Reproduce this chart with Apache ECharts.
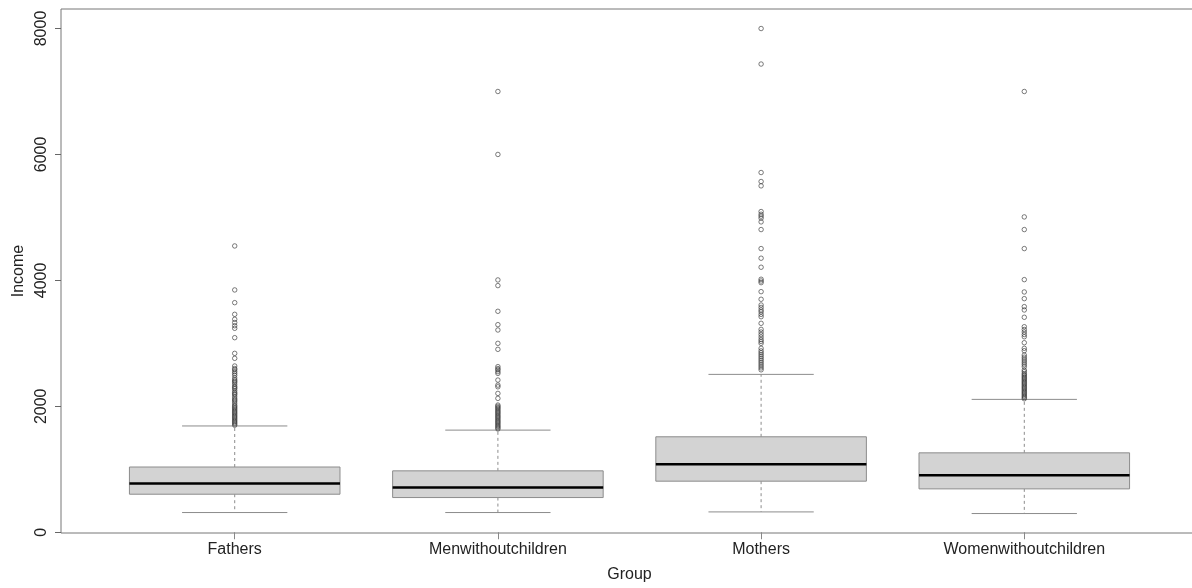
<!DOCTYPE html>
<html>
<head>
<meta charset="utf-8">
<script src="https://cdn.jsdelivr.net/npm/echarts@6/dist/echarts.min.js"></script>
<style>
  html, body { margin: 0; padding: 0; background: #fff; }
  #chart { width: 1192px; height: 588px; }
</style>
</head>
<body>
<div id="chart"></div>
<script>
// groups along the x axis
const groups = ['Fathers', 'Menwithoutchildren', 'Mothers', 'Womenwithoutchildren']
// box stats: [lower whisker, Q1, median, Q3, upper whisker]
const boxStats = [
  [313, 604, 776, 1036, 1688],
  [313, 551, 710, 975, 1622],
  [323, 811, 1081, 1516, 2507],
  [297, 689, 906, 1261, 2110]
]
// outliers per group
const outFathers = [4547, 3848, 3646, 3461, 3382, 3330, 3280, 3239, 3090, 2841, 2762,
  2640, 2600, 2580, 2550, 2520, 2490, 2450, 2420, 2400, 2380, 2350, 2320, 2300, 2280,
  2250, 2220, 2200, 2180, 2150, 2120, 2100, 2080, 2050, 2020, 2000, 1980, 1960, 1940,
  1920, 1900, 1880, 1860, 1840, 1820, 1800, 1780, 1760, 1740, 1720, 1700]
const outMen = [7000, 6000, 4007, 3917, 3509, 3297, 3212, 3000, 2905, 2630, 2600, 2580,
  2550, 2523, 2417, 2337, 2310, 2205, 2126, 2020, 2000, 1980, 1960, 1940, 1920, 1900,
  1880, 1860, 1840, 1820, 1800, 1780, 1760, 1740, 1720, 1700, 1680, 1660, 1640]
const outMothers = [8000, 7436, 5713, 5570, 5501, 5093, 5050, 5020, 4988, 4929, 4807,
  4505, 4352, 4209, 4018, 3990, 3964, 3821, 3700, 3609, 3570, 3530, 3500, 3460, 3423,
  3318, 3222, 3180, 3140, 3100, 3060, 3030, 3000, 2921, 2880, 2850, 2820, 2790, 2760,
  2730, 2700, 2670, 2640, 2610, 2580]
const outWomen = [7000, 5008, 4807, 4505, 4012, 3816, 3710, 3583, 3530, 3414, 3264, 3220,
  3180, 3140, 3105, 3010, 2921, 2883, 2814, 2780, 2750, 2720, 2690, 2660, 2628, 2576,
  2550, 2520, 2500, 2480, 2460, 2440, 2420, 2400, 2380, 2360, 2340, 2320, 2300, 2280,
  2260, 2240, 2220, 2200, 2180, 2160, 2140, 2120]
const yTicks = [0, 2000, 4000, 6000, 8000]

const outliers = [outFathers, outMen, outMothers, outWomen]
const font = 'Liberation Sans, Arial, sans-serif'

let myChart = echarts.init(document.getElementById('chart'))

let boxData = boxStats.map((s, i) => [i + 1].concat(s))
let outData = []
outliers.forEach((arr, i) => {
  arr.forEach(v => outData.push([i + 1, v]))
})

// draw one R-style box
function renderBox(params, api) {
  let x = api.value(0)
  let half = api.size([0.4, 0])[0]
  let capHalf = half / 2
  let pMin = api.coord([x, api.value(1)])
  let pQ1 = api.coord([x, api.value(2)])
  let pMed = api.coord([x, api.value(3)])
  let pQ3 = api.coord([x, api.value(4)])
  let pMax = api.coord([x, api.value(5)])
  let cx = pMed[0]
  let dashed = { stroke: '#8c8c8c', lineWidth: 1, lineDash: [3, 3] }
  let solid = { stroke: '#8c8c8c', lineWidth: 1 }
  return {
    type: 'group',
    children: [
      { type: 'line', shape: { x1: cx, y1: pQ3[1], x2: cx, y2: pMax[1] }, style: dashed },
      { type: 'line', shape: { x1: cx, y1: pQ1[1], x2: cx, y2: pMin[1] }, style: dashed },
      { type: 'line', shape: { x1: cx - capHalf, y1: pMax[1], x2: cx + capHalf, y2: pMax[1] }, style: solid },
      { type: 'line', shape: { x1: cx - capHalf, y1: pMin[1], x2: cx + capHalf, y2: pMin[1] }, style: solid },
      {
        type: 'rect',
        shape: { x: cx - half, y: pQ3[1], width: half * 2, height: pQ1[1] - pQ3[1] },
        style: { fill: '#d3d3d3', stroke: '#8c8c8c', lineWidth: 1 }
      },
      { type: 'line', shape: { x1: cx - half, y1: pMed[1], x2: cx + half, y2: pMed[1] }, style: { stroke: '#000', lineWidth: 2.5 } }
    ]
  }
}

let option = {
  animation: false,
  grid: {
    left: 61,
    top: 9,
    right: -6,
    bottom: 55,
    outerBoundsMode: 'none',
    containLabel: false,
    show: true,
    borderColor: '#777',
    borderWidth: 1,
    backgroundColor: '#fff'
  },
  xAxis: {
    type: 'value',
    min: 0.34,
    max: 4.66,
    name: 'Group',
    nameLocation: 'middle',
    nameGap: 34,
    nameTextStyle: { fontFamily: font, fontSize: 16, color: '#222' },
    axisLine: { show: false },
    splitLine: { show: false },
    axisTick: { show: true, length: 7, lineStyle: { color: '#888' }, customValues: [1, 2, 3, 4] },
    axisLabel: {
      customValues: [1, 2, 3, 4],
      formatter: v => groups[Math.round(v) - 1] || '',
      fontFamily: font,
      fontSize: 16,
      color: '#222',
      margin: 9
    }
  },
  yAxis: {
    type: 'value',
    min: -12,
    max: 8310,
    name: 'Income',
    nameLocation: 'middle',
    nameGap: 34,
    nameRotate: 90,
    nameTextStyle: { fontFamily: font, fontSize: 16, color: '#222' },
    axisLine: { show: false },
    splitLine: { show: false },
    axisTick: { show: true, length: 6, lineStyle: { color: '#666' }, customValues: yTicks },
    axisLabel: {
      customValues: yTicks,
      formatter: v => String(Math.round(v)),
      rotate: 90,
      fontFamily: font,
      fontSize: 16,
      color: '#222',
      margin: 11
    }
  },
  series: [
    {
      type: 'custom',
      renderItem: renderBox,
      encode: { x: 0, y: [1, 2, 3, 4, 5] },
      data: boxData,
      z: 2
    },
    {
      type: 'scatter',
      symbol: 'circle',
      symbolSize: 4.5,
      data: outData,
      itemStyle: { color: 'rgba(0,0,0,0)', borderColor: '#333', borderWidth: 0.8 },
      z: 3
    }
  ]
}
myChart.setOption(option, true)
</script>
</body>
</html>
